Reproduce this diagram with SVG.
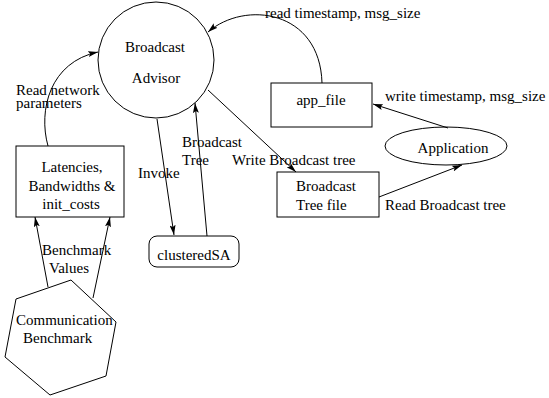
<svg xmlns="http://www.w3.org/2000/svg" width="549" height="398" viewBox="0 0 549 398">
<style>
text{font-family:"Liberation Serif","Times New Roman",serif;font-size:15px;fill:#000}
.s{fill:none;stroke:#000;stroke-width:1}
.c{text-anchor:middle}
.e{fill:none;stroke:#000;stroke-width:1;marker-end:url(#ah)}
</style>
<defs>
<marker id="ah" viewBox="0 0 10 6" refX="10" refY="3" markerWidth="10" markerHeight="6" orient="auto" markerUnits="userSpaceOnUse">
<path d="M0,0 L10,3 L0,6 L2,3 z" fill="#000"/>
</marker>
</defs>
<rect width="549" height="398" fill="#fff"/>
<g id="advisor">
<circle class="s" cx="156" cy="60" r="58"/>
<text class="c" x="155" y="52">Broadcast</text>
<text class="c" x="156" y="83">Advisor</text>
</g>
<g id="app_file">
<rect class="s" x="271" y="83" width="101" height="44"/>
<text class="c" x="321" y="105">app_file</text>
</g>
<g id="application">
<ellipse class="s" cx="446" cy="146" rx="61" ry="19"/>
<text class="c" x="453" y="153">Application</text>
</g>
<g id="treefile">
<rect class="s" x="277" y="172" width="102" height="45"/>
<text x="296" y="191">Broadcast</text>
<text x="296" y="210">Tree file</text>
</g>
<g id="latencies">
<rect class="s" x="16" y="146" width="108" height="71"/>
<text class="c" x="72" y="172">Latencies,</text>
<text class="c" x="72" y="191">Bandwidths &amp;</text>
<text class="c" x="71" y="209">init_costs</text>
</g>
<g id="clusteredSA">
<rect class="s" x="149" y="236" width="90" height="31" rx="8"/>
<text class="c" x="194" y="260">clusteredSA</text>
</g>
<g id="benchmark">
<polygon class="s" points="71,280 116,322 106,376 50,395 5,357 16,299"/>
<text x="16" y="325">Communication</text>
<text x="23" y="343">Benchmark</text>
</g>
<g id="connectors">
<path class="e" d="M322,83 C320,10 245,0 208,32"/>
<path class="e" d="M448,128 L373,104"/>
<path class="e" d="M379,197 L462,165"/>
<path class="e" d="M208,90 L296,172"/>
<path class="e" d="M48,146 C38,110 50,62 98,52"/>
<path class="e" d="M157,119 L174,235"/>
<path class="e" d="M207,236 L195,103"/>
<path class="e" d="M48,287 L35,217"/>
<path class="e" d="M93,298 L110,217"/>
</g>
<g id="labels">
<text x="265" y="18">read timestamp, msg_size</text>
<text x="385" y="101">write timestamp, msg_size</text>
<text x="385" y="210">Read Broadcast tree</text>
<text x="232" y="165">Write Broadcast tree</text>
<text x="16" y="95">Read network</text>
<text x="16" y="108">parameters</text>
<text x="138" y="178">Invoke</text>
<text x="182" y="147">Broadcast</text>
<text x="182" y="165">Tree</text>
<text x="42" y="255">Benchmark</text>
<text x="49" y="273">Values</text>
</g>
</svg>
